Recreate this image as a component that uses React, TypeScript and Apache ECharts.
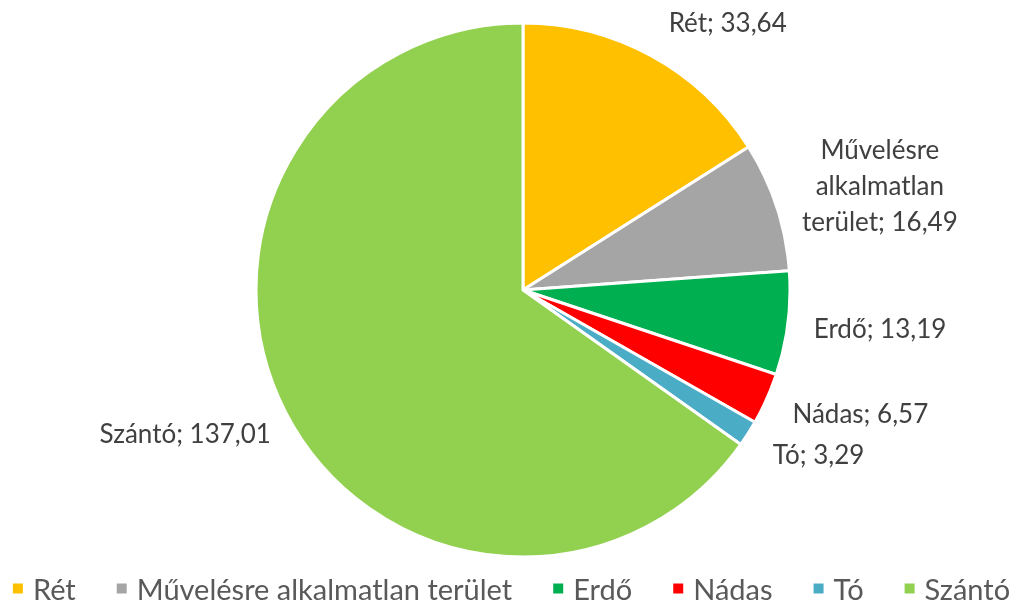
import React, { useEffect, useRef } from "react";
import * as echarts from "echarts";

const categories = ["Rét", "Művelésre alkalmatlan terület", "Erdő", "Nádas", "Tó", "Szántó"];
const values = [33.64, 16.49, 13.19, 6.57, 3.29, 137.01];
const colors = ["#FFC000", "#A5A5A5", "#00B050", "#FF0000", "#4BACC6", "#92D050"];
const labelTexts = ["Rét; 33,64", "Művelésre\nalkalmatlan\nterület; 16,49", "Erdő; 13,19", "Nádas; 6,57", "Tó; 3,29", "Szántó; 137,01"];
// label placement (angle clockwise from top in degrees, distance from centre in px)
const labelAngles = [37.4, 73.6, 96, 110, 119, 247];
const labelDists = [337, 372, 359, 359, 338, 367];

const CX = 523;
const CY = 290;

export default function App() {
  const ref = useRef<HTMLDivElement>(null);
  useEffect(() => {
    const chart = echarts.init(ref.current!, null, { renderer: "svg" });
    chart.setOption({
      animation: false,
      textStyle: { fontFamily: "Lato" },
      legend: {
        bottom: -3,
        left: "center",
        icon: "rect",
        itemWidth: 12,
        itemHeight: 12,
        itemGap: 39,
        textStyle: { fontSize: 29, color: "#595959", fontFamily: "Lato", padding: [0, 0, 0, 4] },
        data: categories,
      },
      series: [
        {
          type: "pie",
          center: [CX, CY],
          radius: 267,
          startAngle: 90,
          clockwise: true,
          itemStyle: { borderColor: "#fff", borderWidth: 3 },
          labelLine: { show: false },
          label: {
            show: true,
            position: "outside",
            color: "#404040",
            fontSize: 26,
            lineHeight: 36,
            fontFamily: "Lato",
            align: "center",
            formatter: (p: any) => labelTexts[p.dataIndex],
          },
          labelLayout: (p: any) => {
            const i = p.dataIndex;
            const a = (labelAngles[i] * Math.PI) / 180;
            return {
              x: CX + labelDists[i] * Math.sin(a),
              y: CY - labelDists[i] * Math.cos(a),
              align: "center",
              verticalAlign: "middle",
            };
          },
          data: categories.map((name, i) => ({
            name,
            value: values[i],
            itemStyle: { color: colors[i] },
          })),
        },
      ],
    });
    return () => chart.dispose();
  }, []);
  return <div ref={ref} style={{ position: "fixed", left: 0, top: 0, width: 1021, height: 605 }} />;
}
